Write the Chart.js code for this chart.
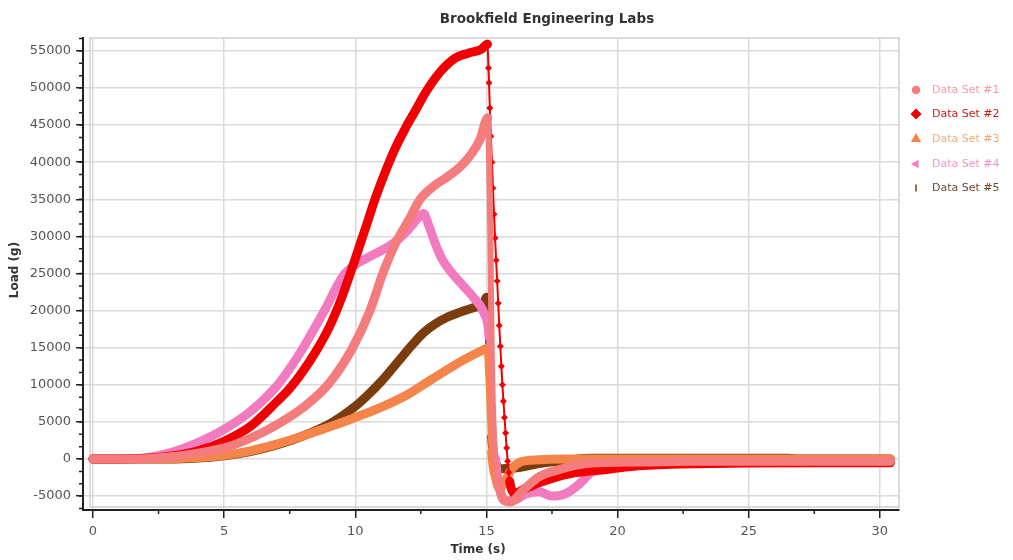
<!DOCTYPE html>
<html>
<head>
<meta charset="utf-8">
<title>Brookfield Engineering Labs</title>
<script src="https://cdn.jsdelivr.net/npm/chart.js"></script>
<style>
    body { margin: 0; background: #fff; }
    #wrap { width: 1013px; height: 560px; }
</style>
</head>
<body>
<div id="wrap"><canvas id="chart" width="1013" height="560"></canvas></div>
<script>
// tick labels
const xTicks = [0, 5, 10, 15, 20, 25, 30];
const yTicks = [-5000, 0, 5000, 10000, 15000, 20000, 25000, 30000, 35000, 40000, 45000, 50000, 55000];

const seriesNames = ['Data Set #1', 'Data Set #2', 'Data Set #3', 'Data Set #4', 'Data Set #5'];

// Data Set #1 (time s, load g)
const ds1Time = [0, 1, 2, 3, 4, 5, 6, 7, 8, 9, 9.9, 10.56, 11.05, 11.5, 12.1, 12.47, 13, 13.5, 14, 14.4, 14.75, 15.05,
    15.15, 15.2, 15.3, 15.45, 15.7, 15.9, 16.4, 17, 17.7, 19, 20.9, 23, 26, 30.4];
const ds1Load = [0, 0, 50, 300, 800, 1500, 2800, 4600, 6900, 10200, 15000, 20000, 25000, 28800, 32600, 35000, 36800, 38000, 39400, 41000, 43000, 46000,
    30000, 15000, 2000, -3000, -5600, -5800, -4200, -2400, -1500, -550, -400, -300, -300, -300];

// Data Set #2
const ds2Time = [0, 1, 2, 3, 4, 5, 6, 7, 7.5, 8, 8.5, 9, 9.5, 10, 10.5, 10.75, 11.1, 11.5, 11.9, 12.3, 12.7, 13.2, 13.8, 14.3, 14.8, 15.04,
    15.08, 15.1, 15.13, 15.17, 15.21, 15.25, 15.29, 15.33, 15.37, 15.41, 15.45, 15.49, 15.53, 15.57, 15.61, 15.65, 15.69, 15.73, 15.77, 15.81, 15.85, 15.89, 15.94,
    16.0, 16.1, 16.3, 16.6, 17, 17.5, 18.3, 19, 19.6, 20.5, 22, 25, 28, 30.4];
const ds2Load = [0, 0, 100, 400, 1100, 2400, 4400, 7700, 9500, 11800, 14500, 17700, 21900, 27000, 32300, 35000, 38300, 41700, 44500, 47000, 49500, 52000, 54000, 54700, 55200, 55900,
    52700, 50700, 47300, 43500, 40000, 36500, 33000, 29800, 26800, 24000, 21000, 18000, 15200, 12500, 10000, 7800, 5600, 3500, 1500, -300, -1800, -3000, -3900,
    -4400, -4700, -4300, -3800, -3200, -2600, -1900, -1600, -1400, -1000, -700, -550, -500, -500];

// Data Set #3
const ds3Time = [0, 2, 3, 4, 5, 6, 7, 8, 9, 10, 11, 12, 12.85, 14.1, 14.87, 15.0, 15.1, 15.2, 15.35, 15.5, 15.7, 16.0, 16.3, 17, 18, 30.4];
const ds3Load = [0, 0, 50, 200, 500, 1100, 2000, 3100, 4300, 5600, 7000, 8700, 10600, 13300, 14700, 14900, 9000, 1000, -2500, -4000, -3000, -1200, -400, -100, 0, 0];

// Data Set #4
const ds4Time = [0, 1, 2, 3, 4, 5, 6, 7, 7.6, 8.15, 8.9, 9.3, 9.6, 10, 10.5, 11, 11.5, 12, 12.4, 12.6, 12.8, 13, 13.3, 13.7, 14.1, 14.5, 14.9, 15.1,
    15.2, 15.35, 15.5, 15.7, 16.0, 16.5, 17, 17.5, 18, 18.5, 19, 19.5, 20, 22, 25, 30.4];
const ds4Load = [0, 0, 150, 900, 2200, 4000, 6400, 9800, 12700, 15800, 20500, 23300, 25000, 26200, 27200, 28100, 29200, 30800, 32500, 33100, 31500, 29500, 27000, 25000, 23400, 21800, 19700, 16500,
    8000, 0, -4000, -5600, -5600, -4700, -4400, -5000, -4700, -3500, -1800, -1000, -700, -500, -400, -400];

// Data Set #5
const ds5Time = [0, 2, 3, 4, 5, 6, 7, 8, 9, 9.5, 10, 10.5, 11, 11.6, 12.2, 12.6, 13, 13.5, 14, 14.5, 14.9, 15.0, 15.1, 15.2, 15.35, 15.6, 16.3, 17, 18, 19, 26.5, 27, 30.4];
const ds5Load = [0, 0, 0, 150, 450, 1000, 1900, 3100, 4700, 5800, 7100, 8700, 10500, 13000, 15500, 17000, 18100, 19100, 19800, 20400, 21000, 21800, 12000, 3000, -500, -1300, -1100, -600, -200, 100, 100, 0, 0];

// styles
const seriesColors = ['#f47c7c', '#f00000', '#f5844a', '#f27bc0', '#7b3d0e'];
const legendTextColors = ['#f29aa4', '#cc1a1a', '#f0aa78', '#eb94cc', '#6e4630'];
const legendMarkers = [
    { pointStyle: 'circle', rotation: 0, radius: 3.5 },
    { pointStyle: 'rectRot', rotation: 0, radius: 4.5 },
    { pointStyle: 'triangle', rotation: 0, radius: 4.5 },
    { pointStyle: 'triangle', rotation: -90, radius: 3.5 },
    { pointStyle: 'line', rotation: 90, radius: 3.5 }
];

function toPoints(times, loads) {
    return times.map((t, i) => ({ x: t, y: loads[i] }));
}

const allTimes = [ds1Time, ds2Time, ds3Time, ds4Time, ds5Time];
const allLoads = [ds1Load, ds2Load, ds3Load, ds4Load, ds5Load];

// the unloading drop of set #2 is drawn as a thin line with its markers showing
function inDrop(x) { return x > 15.05 && x < 15.96; }

const datasets = seriesNames.map((name, i) => {
    const ds = {
        label: name,
        data: toPoints(allTimes[i], allLoads[i]),
        borderColor: seriesColors[i],
        backgroundColor: seriesColors[i],
        borderWidth: 9,
        borderCapStyle: 'round',
        borderJoinStyle: 'round',
        cubicInterpolationMode: 'monotone',
        pointRadius: 0,
        pointHoverRadius: 0,
        fill: false
    };
    if (i === 1) {
        ds.pointStyle = 'rectRot';
        ds.pointRadius = ctx => (ctx.raw && inDrop(ctx.raw.x)) ? 3.5 : 0;
        ds.pointBorderWidth = 0;
        ds.segment = {
            borderWidth: ctx => (ctx.p0.parsed.x >= 15.04 && ctx.p1.parsed.x <= 15.9) ? 2 : undefined
        };
    } else {
        ds.segment = {
            borderWidth: ctx => (ctx.p0.parsed.y - ctx.p1.parsed.y > 4000) ? 6 : undefined
        };
    }
    return ds;
});

// frame, minor ticks, title, axis titles and legend
const decorPlugin = {
    id: 'decor',
    beforeDatasetsDraw(chart) {
        const ctx = chart.ctx;
        const a = chart.chartArea;
        ctx.save();
        ctx.strokeStyle = '#cfcfcf';
        ctx.lineWidth = 1.5;
        ctx.strokeRect(a.left + 7, a.top, a.right - a.left - 7, a.bottom - a.top - 3);
        ctx.restore();
    },
    afterDraw(chart) {
        const ctx = chart.ctx;
        const a = chart.chartArea;
        const xs = chart.scales.x;
        const ys = chart.scales.y;
        ctx.save();

        // minor ticks
        ctx.strokeStyle = '#222';
        ctx.lineWidth = 1.5;
        ctx.beginPath();
        for (let i = 0; i < xTicks.length - 1; i++) {
            const px = xs.getPixelForValue((xTicks[i] + xTicks[i + 1]) / 2);
            ctx.moveTo(px, a.bottom);
            ctx.lineTo(px, a.bottom + 4);
        }
        const step = (yTicks[1] - yTicks[0]) / 3;
        for (let v = yTicks[0] - step; v <= yTicks[yTicks.length - 1] + step + 1; v += step) {
            if (v < ys.min || v > ys.max) continue;
            const py = ys.getPixelForValue(v);
            ctx.moveTo(a.left - 4, py);
            ctx.lineTo(a.left, py);
        }
        ctx.stroke();

        // title
        ctx.fillStyle = '#333';
        ctx.font = 'bold 13.5px "DejaVu Sans"';
        ctx.textAlign = 'center';
        ctx.textBaseline = 'middle';
        ctx.fillText('Brookfield Engineering Labs', 547, 19);

        // axis titles
        ctx.font = 'bold 12px "DejaVu Sans"';
        ctx.fillText('Time (s)', 478, 550);
        ctx.save();
        ctx.translate(15, 270);
        ctx.rotate(-Math.PI / 2);
        ctx.fillText('Load (g)', 0, 0);
        ctx.restore();

        // legend
        const rows = [90, 114, 139, 164, 188];
        ctx.font = '11px "DejaVu Sans"';
        ctx.textAlign = 'left';
        seriesNames.forEach((name, i) => {
            ctx.fillStyle = seriesColors[i];
            ctx.strokeStyle = seriesColors[i];
            const m = legendMarkers[i];
            Chart.helpers.drawPoint(ctx, { pointStyle: m.pointStyle, rotation: m.rotation, radius: m.radius, borderWidth: 2 }, 916, rows[i]);
            ctx.fillStyle = legendTextColors[i];
            ctx.fillText(name, 932, rows[i]);
        });
        ctx.restore();
    }
};

new Chart(document.getElementById('chart'), {
    type: 'line',
    data: { datasets: datasets },
    plugins: [decorPlugin],
    options: {
        responsive: false,
        animation: false,
        layout: { padding: { top: 38, right: 114, left: 0, bottom: 0 } },
        plugins: {
            legend: { display: false },
            title: { display: false },
            tooltip: { enabled: false }
        },
        scales: {
            x: {
                type: 'linear',
                min: -0.38,
                max: 30.73,
                afterBuildTicks: scale => { scale.ticks = xTicks.map(v => ({ value: v })); },
                afterFit: scale => { scale.height = 50; },
                grid: { color: '#dadada', lineWidth: 1.5, tickLength: 8, tickColor: '#222', tickWidth: 1.5 },
                border: { display: true, color: '#222', width: 2 },
                ticks: { color: '#555', font: { family: 'DejaVu Sans', size: 13 }, padding: 6, maxRotation: 0, autoSkip: false,
                    callback: v => String(v) }
            },
            y: {
                type: 'linear',
                min: -6870,
                max: 56740,
                afterBuildTicks: scale => { scale.ticks = yTicks.map(v => ({ value: v })); },
                afterFit: scale => { scale.width = 83; },
                grid: { color: '#dadada', lineWidth: 1.5, tickLength: 7, tickColor: '#222', tickWidth: 1.5 },
                border: { display: true, color: '#222', width: 2 },
                ticks: { color: '#555', font: { family: 'DejaVu Sans', size: 13 }, padding: 5, autoSkip: false,
                    callback: v => String(v) }
            }
        }
    }
});
</script>
</body>
</html>
